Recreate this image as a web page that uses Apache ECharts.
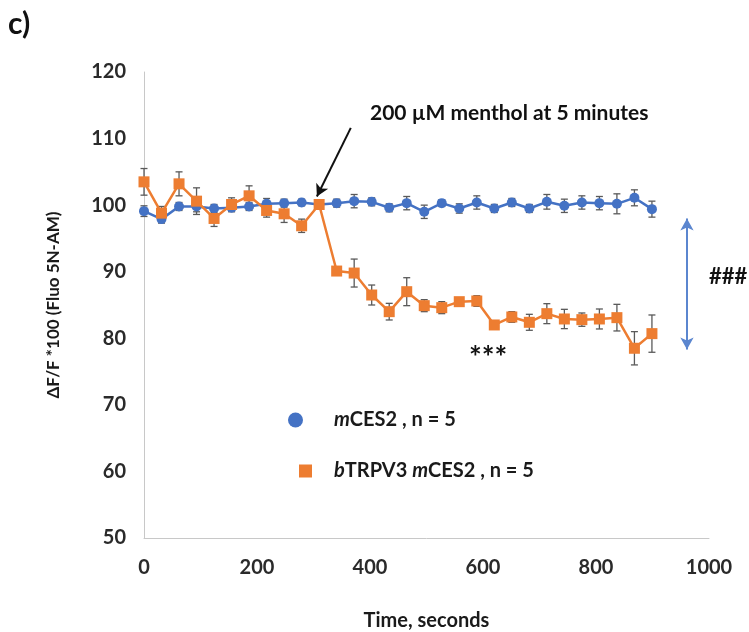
<!DOCTYPE html>
<html>
<head>
<meta charset="utf-8">
<script src="https://cdn.jsdelivr.net/npm/echarts@6/dist/echarts.min.js"></script>
<style>
html,body{margin:0;padding:0;background:#fff;}
#chart{width:749px;height:632px;}
</style>
</head>
<body>
<div id="chart"></div>
<script>
// ---- data ----
var times = [0,31,62,93,124,155,186,217,248,279,310,341,372,403,434,465,496,527,558,589,620,651,682,713,744,775,806,837,868,899];
var blueValues = [99.1,97.9,99.8,99.8,99.5,99.6,99.8,100.2,100.3,100.4,100.1,100.3,100.6,100.5,99.6,100.3,99.0,100.3,99.5,100.4,99.5,100.4,99.5,100.5,99.9,100.4,100.3,100.2,101.1,99.4];
var blueErrors = [0.8,0.6,0.6,0.8,0.6,0.6,0.6,0.8,0.6,0.5,0.5,0.6,1.0,0.6,0.6,1.0,1.0,0.5,0.7,1.0,0.6,0.6,0.6,1.1,1.0,1.0,1.0,1.5,1.2,1.2];
var orangeValues = [103.5,98.8,103.2,100.6,98.0,100.1,101.4,99.2,98.7,96.9,100.1,90.1,89.8,86.5,84.0,87.0,84.9,84.6,85.5,85.6,82.0,83.2,82.4,83.7,82.9,82.8,82.9,83.1,78.5,80.7];
var orangeErrors = [2.0,1.0,1.8,2.0,1.2,1.0,1.5,1.0,1.3,1.0,0.5,0.6,2.1,1.5,1.25,2.1,0.9,0.9,0.6,0.8,0.5,0.8,1.2,1.5,1.45,1.0,1.5,2.0,2.5,2.8];
var xTicks = [0,200,400,600,800,1000];
var yTicks = [50,60,70,80,90,100,110,120];
var seriesNames = ['mCES2','bTRPV3'];

var FONT = 'Lato';
var BLUE = '#4472C4';
var ORANGE = '#ED7D31';

function pairs(xs, ys){ return xs.map(function(x,i){ return [x, ys[i]]; }); }
function errData(xs, ys, es){ return xs.map(function(x,i){ return [x, ys[i]-es[i], ys[i]+es[i]]; }); }

function errRender(params, api){
  var x = api.value(0);
  var lo = api.coord([x, api.value(1)]);
  var hi = api.coord([x, api.value(2)]);
  var cap = 3.5;
  var st = {stroke:'#5a5a5a', lineWidth:1.3};
  return {type:'group', children:[
    {type:'line', shape:{x1:lo[0],y1:lo[1],x2:hi[0],y2:hi[1]}, style:st},
    {type:'line', shape:{x1:lo[0]-cap,y1:lo[1],x2:lo[0]+cap,y2:lo[1]}, style:st},
    {type:'line', shape:{x1:hi[0]-cap,y1:hi[1],x2:hi[0]+cap,y2:hi[1]}, style:st}
  ]};
}

var chart = echarts.init(document.getElementById('chart'), null, {renderer:'canvas'});
var option = {
  animation:false,
  backgroundColor:'#fff',
  textStyle:{fontFamily:FONT},
  grid:{left:144, top:72, width:565, height:466, containLabel:false, outerBoundsMode:'none'},
  xAxis:{
    type:'value', min:0, max:1000, interval:200,
    axisLine:{show:true, lineStyle:{color:'#c8c8c8', width:1}},
    axisTick:{show:false}, splitLine:{show:false},
    axisLabel:{color:'#2a2a2a', fontSize:20, fontWeight:'bold', fontFamily:FONT, margin:20,
      formatter:function(v){ return xTicks.indexOf(v)>=0 ? String(v) : ''; }},
    name:'Time, seconds', nameLocation:'middle', nameGap:73,
    nameTextStyle:{color:'#1a1a1a', fontSize:20, fontWeight:'bold', fontFamily:FONT}
  },
  yAxis:{
    type:'value', min:50, max:120, interval:10,
    axisLine:{show:true, lineStyle:{color:'#c8c8c8', width:1}},
    axisTick:{show:false}, splitLine:{show:false},
    axisLabel:{color:'#2a2a2a', fontSize:20, fontWeight:'bold', fontFamily:FONT, margin:18,
      formatter:function(v){ return yTicks.indexOf(v)>=0 ? String(v) : ''; }},
    name:'ΔF/F *100 (Fluo 5N-AM)', nameLocation:'middle', nameGap:82,
    nameTextStyle:{color:'#1a1a1a', fontSize:17, fontWeight:'bold', fontFamily:FONT}
  },
  legend:[
    {data:[seriesNames[0]], orient:'vertical', left:283, top:405,
     itemWidth:15, itemHeight:15, icon:'circle',
     formatter:function(){ return '{s|}{i|m}{b|CES2 , n = 5}'; },
     textStyle:{rich:{
       s:{width:26},
       i:{fontStyle:'italic', fontWeight:'bold', fontSize:20, color:'#1a1a1a', fontFamily:FONT},
       b:{fontWeight:'bold', fontSize:20, color:'#1a1a1a', fontFamily:FONT}}}},
    {data:[seriesNames[1]], orient:'vertical', left:294, top:456,
     itemWidth:13, itemHeight:13, icon:'rect',
     formatter:function(){ return '{s|}{i|b}{b|TRPV3 }{i|m}{b|CES2 , n = 5}'; },
     textStyle:{rich:{
       s:{width:17},
       i:{fontStyle:'italic', fontWeight:'bold', fontSize:20, color:'#1a1a1a', fontFamily:FONT},
       b:{fontWeight:'bold', fontSize:20, color:'#1a1a1a', fontFamily:FONT}}}}
  ],
  series:[
    {type:'custom', name:'errBlue', renderItem:errRender, data:errData(times, blueValues, blueErrors), z:1, silent:true},
    {type:'custom', name:'errOrange', renderItem:errRender, data:errData(times, orangeValues, orangeErrors), z:1, silent:true},
    {type:'line', name:seriesNames[0], data:pairs(times, blueValues), z:2,
     symbol:'circle', symbolSize:10, showSymbol:true,
     lineStyle:{color:BLUE, width:2.5}, itemStyle:{color:BLUE},
     markLine:{silent:true, symbol:['arrow','arrow'], symbolSize:[10,12],
       lineStyle:{color:'#5B86CF', width:2, type:'solid'}, label:{show:false},
       data:[[{coord:[961,98.0]},{coord:[961,78.3]}]]}},
    {type:'line', name:seriesNames[1], data:pairs(times, orangeValues), z:3,
     symbol:'rect', symbolSize:11, showSymbol:true,
     lineStyle:{color:ORANGE, width:2.5}, itemStyle:{color:ORANGE},
     markLine:{silent:true, symbol:['none','arrow'], symbolSize:[10,12],
       lineStyle:{color:'#111', width:2, type:'solid'}, label:{show:false},
       data:[[{coord:[366,111.6]},{coord:[306,101.3]}]]}}
  ],
  graphic:[
    {type:'text', left:8, top:9, style:{text:'c)', font:'bold 30px '+FONT, fill:'#111'}},
    {type:'text', left:370, top:103, style:{text:'200 µM menthol at 5 minutes', font:'bold 21px '+FONT, fill:'#111'}},
    {type:'text', left:469, top:343, style:{text:'***', font:'bold 30px '+FONT, fill:'#111'}},
    {type:'text', left:709, top:266, style:{text:'###', font:'bold 22px '+FONT, fill:'#111'}}
  ]
};
chart.setOption(option);
</script>
</body>
</html>
